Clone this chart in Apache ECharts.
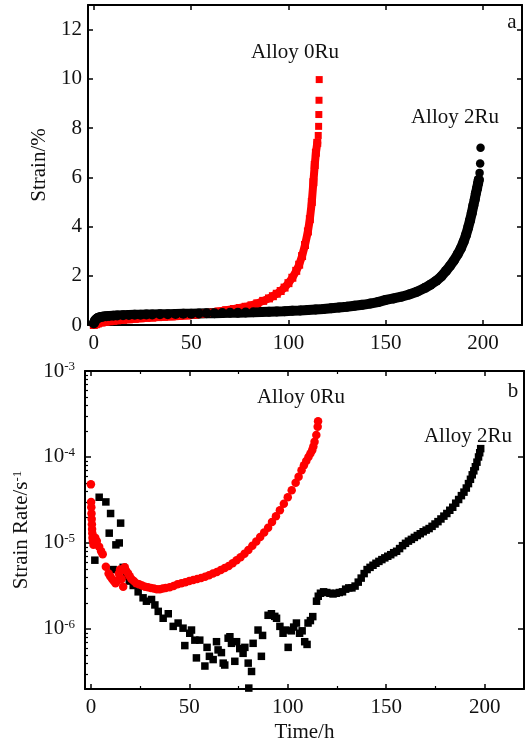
<!DOCTYPE html>
<html>
<head>
<meta charset="utf-8">
<script src="https://cdn.jsdelivr.net/npm/echarts@6/dist/echarts.min.js"></script>
<style>
  html, body { margin: 0; padding: 0; background: #fff; }
  #chart { width: 526px; height: 744px; }
</style>
</head>
<body>
<div id="chart"></div>
<script>
// ---- panel a: creep strain (%) vs time (h) ----
const strain0RuTime = [0, 1, 2, 4, 6, 8, 10, 12, 15, 18, 21, 24, 27, 30, 33, 36, 40, 44, 48, 52,
  56, 60, 64, 68, 72, 75, 78, 81, 84, 87, 90, 92, 94, 96, 98, 100, 102, 104, 105.5, 107,
  108.5, 110, 111, 112, 112.8, 113.5, 114.1, 114.8];
const strain0Ru = [0, 0.03, 0.06, 0.1, 0.13, 0.15, 0.17, 0.19, 0.21, 0.23, 0.25, 0.27, 0.29, 0.3, 0.32, 0.33, 0.35, 0.37, 0.39, 0.42,
  0.46, 0.5, 0.55, 0.6, 0.65, 0.69, 0.74, 0.8, 0.88, 0.98, 1.08, 1.17, 1.27, 1.38, 1.52, 1.7, 1.92, 2.2, 2.45, 2.8,
  3.25, 3.8, 4.3, 5.0, 5.8, 6.5, 7.0, 7.4];
// last separated points before rupture
const strain0RuTailTime = [115.3, 115.5, 115.6, 115.7, 115.8];
const strain0RuTail = [7.7, 8.07, 8.55, 9.13, 9.97];

const strain2RuTime = [0, 0.3, 0.6, 1, 1.5, 2, 3, 4, 5, 6.5, 8, 10, 12, 15, 18, 21, 24, 27, 30, 34,
  38, 42, 46, 50, 54, 58, 62, 66, 70, 74, 78, 82, 86, 90, 94, 98, 102, 106, 110, 114,
  118, 122, 126, 130, 134, 138, 142, 146, 150, 154, 158, 162, 166, 170, 173, 176, 178.5, 181, 183, 185,
  187, 188.5, 190, 191.2, 192.3, 193.3, 194.2, 195, 195.7, 196.3, 196.9, 197.4, 197.8];
const strain2Ru = [0.06, 0.12, 0.17, 0.21, 0.25, 0.28, 0.31, 0.33, 0.35, 0.36, 0.37, 0.38, 0.39, 0.4, 0.41, 0.42, 0.42, 0.43, 0.43, 0.44,
  0.44, 0.45, 0.46, 0.46, 0.47, 0.48, 0.48, 0.49, 0.5, 0.5, 0.51, 0.52, 0.53, 0.54, 0.55, 0.56, 0.58, 0.59, 0.61, 0.63,
  0.65, 0.68, 0.71, 0.74, 0.78, 0.82, 0.87, 0.93, 1.02, 1.08, 1.15, 1.24, 1.35, 1.5, 1.64, 1.8, 1.97, 2.2, 2.4, 2.62,
  2.88, 3.1, 3.38, 3.65, 3.95, 4.25, 4.55, 4.85, 5.1, 5.35, 5.55, 5.75, 5.9];
const strain2RuTailTime = [198.2, 198.5, 198.7];
const strain2RuTail = [6.18, 6.56, 7.2];

// ---- panel b: strain rate (1/s) vs time (h) ----
const rate0RuTime = [0, 0.1, 0.2, 0.3, 0.4, 0.5, 0.6, 0.7, 0.8, 1.0, 1.3, 2.2, 3.0, 4.2, 5.2, 6.0, 7.6, 9.0, 9.8, 10.8,
  11.6, 12.5, 13.4, 14.2, 14.8, 15.6, 16.4, 17.2, 18.0, 18.9, 19.7, 20.6, 21.8, 23, 24.5, 26, 27.5, 29, 30.5, 32,
  33.5, 35, 36.5, 38, 40, 42, 44, 46, 48, 50, 52, 54, 56, 58, 60, 62, 64, 66, 68, 70,
  72, 74, 76, 78, 80, 82, 84, 86, 88, 90, 92, 94, 96, 98, 100, 102, 104, 105.5, 107, 108.2,
  109.4, 110.5, 111.5, 112.4, 113.0, 113.6, 114.5, 115.2, 115.4];
const rate0Ru = [4.8e-5, 3.0e-5, 2.6e-5, 2.2e-5, 1.9e-5, 1.65e-5, 1.45e-5, 1.3e-5, 1.15e-5, 1.05e-5, 9.5e-6, 1.15e-5, 1.05e-5, 9.0e-6, 8.0e-6, 7.4e-6, 5.3e-6, 4.4e-6, 4.1e-6, 3.8e-6,
  3.6e-6, 3.4e-6, 3.6e-6, 4.4e-6, 4.9e-6, 3.8e-6, 3.1e-6, 5.2e-6, 4.7e-6, 4.4e-6, 4.1e-6, 3.8e-6, 3.6e-6, 3.4e-6, 3.3e-6, 3.2e-6, 3.1e-6, 3.05e-6, 3.0e-6, 2.95e-6,
  2.9e-6, 2.9e-6, 2.95e-6, 3.0e-6, 3.05e-6, 3.15e-6, 3.3e-6, 3.4e-6, 3.5e-6, 3.6e-6, 3.7e-6, 3.8e-6, 3.9e-6, 4.05e-6, 4.2e-6, 4.4e-6, 4.6e-6, 4.85e-6, 5.1e-6, 5.4e-6,
  5.8e-6, 6.3e-6, 6.8e-6, 7.5e-6, 8.3e-6, 9.3e-6, 1.04e-5, 1.17e-5, 1.32e-5, 1.5e-5, 1.75e-5, 2.05e-5, 2.4e-5, 2.85e-5, 3.4e-5, 4.1e-5, 5.0e-5, 5.9e-5, 7.0e-5, 8.0e-5,
  9.0e-5, 1.0e-4, 1.1e-4, 1.2e-4, 1.32e-4, 1.5e-4, 1.8e-4, 2.25e-4, 2.6e-4];

const rate2RuTime = [2.0, 4.2, 7.6, 9.3, 10.0, 11.3, 12.7, 14.4, 15.1, 16.4,
  18.1, 19.5, 21.5, 24.0, 26.5, 28.2, 30.8, 32.5, 34.2, 36.7,
  39.3, 41.8, 44.3, 46.8, 47.7, 50.2, 51.1, 52.8, 53.6, 55.3,
  57.9, 59.0, 60.2, 62.1, 63.8, 64.6, 66.3, 67.2, 68.0, 69.7,
  70.6, 71.4, 73.1, 74.0, 75.6, 77.3, 78.2, 79.9, 80.2, 81.6,
  82.4, 84.9, 86.6, 87.2, 90.0, 91.7, 93.4, 94.3, 96.0, 97.6,
  99.0, 100.2, 101.8, 103.0, 104.4, 106.0, 107.3, 108.6, 109.8, 110.3,
  111.5, 112.7, 114.6, 115.5, 116.6, 118.2, 119.8, 121.4, 123.0, 124.6,
  126.2, 127.8, 129.4, 131.0, 132.6, 134.2, 135.8, 137.3, 138.8, 140.3,
  141.8, 143.3, 144.8, 146.3, 147.8, 149.3, 150.8, 152.3, 153.8, 155.3,
  156.8, 158.3, 159.8, 161.3, 162.8, 164.3, 165.8, 167.3, 168.8, 170.3,
  171.8, 173.3, 174.8, 176.3, 177.8, 179.3, 180.8, 182.3, 183.8, 185.3,
  186.8, 188.2, 189.5, 190.7, 191.8, 192.8, 193.7, 194.5, 195.3, 196.1,
  196.9, 197.5, 198.0];
const rate2Ru = [6.3e-6, 3.4e-5, 3.0e-5, 1.3e-5, 2.2e-5, 4.9e-6, 9.5e-6, 1.0e-5, 1.7e-5, 5.2e-6,
  4.1e-6, 3.6e-6, 3.2e-6, 2.7e-6, 2.3e-6, 2.1e-6, 2.2e-6, 1.9e-6, 1.6e-6, 1.33e-6,
  1.5e-6, 1.07e-6, 1.17e-6, 1.02e-6, 6.4e-7, 8.9e-7, 9.7e-7, 7.4e-7, 4.6e-7, 7.4e-7,
  3.7e-7, 6.1e-7, 4.8e-7, 4.4e-7, 7.1e-7, 5.7e-7, 5.3e-7, 4.0e-7, 3.8e-7, 7.8e-7,
  8.1e-7, 6.8e-7, 4.2e-7, 7.1e-7, 5.9e-7, 5.2e-7, 6.1e-7, 4.0e-7, 2.05e-7, 3.2e-7,
  6.8e-7, 9.7e-7, 4.8e-7, 8.4e-7, 1.44e-6, 1.5e-6, 1.4e-6, 1.33e-6, 1.07e-6, 8.9e-7,
  9.7e-7, 6.1e-7, 9.5e-7, 1.05e-6, 1.17e-6, 8.9e-7, 9.5e-7, 7.1e-7, 6.6e-7, 1.17e-6,
  1.25e-6, 1.39e-6, 2.1e-6, 2.4e-6, 2.6e-6, 2.7e-6, 2.65e-6, 2.6e-6, 2.55e-6, 2.6e-6,
  2.65e-6, 2.7e-6, 2.9e-6, 3.0e-6, 3.0e-6, 3.15e-6, 3.5e-6, 3.9e-6, 4.4e-6, 4.9e-6,
  5.2e-6, 5.5e-6, 5.8e-6, 6.1e-6, 6.4e-6, 6.7e-6, 7.0e-6, 7.3e-6, 7.7e-6, 8.0e-6,
  8.6e-6, 9.3e-6, 9.9e-6, 1.05e-5, 1.1e-5, 1.16e-5, 1.22e-5, 1.28e-5, 1.35e-5, 1.41e-5,
  1.47e-5, 1.56e-5, 1.66e-5, 1.77e-5, 1.9e-5, 2.05e-5, 2.2e-5, 2.4e-5, 2.6e-5, 2.9e-5,
  3.2e-5, 3.55e-5, 3.9e-5, 4.35e-5, 4.9e-5, 5.5e-5, 6.2e-5, 6.9e-5, 7.7e-5, 8.7e-5,
  1.0e-4, 1.12e-4, 1.25e-4];

// tick values
const timeTicks = [0, 50, 100, 150, 200];
const timeMinorTicks = [25, 75, 125, 175];
const strainTicks = [0, 2, 4, 6, 8, 10, 12];
const rateMinorTicks = [3e-7, 4e-7, 5e-7, 6e-7, 7e-7, 8e-7, 9e-7,
  2e-6, 3e-6, 4e-6, 5e-6, 6e-6, 7e-6, 8e-6, 9e-6,
  2e-5, 3e-5, 4e-5, 5e-5, 6e-5, 7e-5, 8e-5, 9e-5,
  2e-4, 3e-4, 4e-4, 5e-4, 6e-4, 7e-4, 8e-4, 9e-4];

const FONT = 'Liberation Serif';
const FS = 21;
const INK = '#111';
const RED = '#ff0000';

function pairs(xs, ys) {
  return xs.map((x, i) => [x, ys[i]]);
}

function linAxis(gridIndex, position, min, max, ticks, showLabel, tickLen) {
  return {
    type: 'value', gridIndex: gridIndex, position: position, min: min, max: max,
    splitLine: { show: false },
    axisLine: { show: true, onZero: false, lineStyle: { color: '#000', width: 2 } },
    axisTick: { show: true, inside: true, length: tickLen || 5, customValues: ticks,
      lineStyle: { color: '#000', width: 1.5 } },
    axisLabel: { show: showLabel, customValues: ticks, color: INK, fontFamily: FONT, fontSize: FS, margin: 8 }
  };
}

function minorAxis(gridIndex, position, min, max, ticks) {
  return {
    type: 'value', gridIndex: gridIndex, position: position, min: min, max: max,
    splitLine: { show: false },
    axisLine: { show: false, onZero: false },
    axisTick: { show: true, inside: true, length: 3, customValues: ticks,
      lineStyle: { color: '#000', width: 1.2 } },
    axisLabel: { show: false }
  };
}

const supRich = {
  b: { fontFamily: FONT, fontSize: FS, color: INK },
  sup: { fontFamily: FONT, fontSize: 13, color: INK, verticalAlign: 'top' }
};

function logAxis(position, showLabel) {
  return {
    type: 'log', logBase: 10, gridIndex: 1, position: position, min: 2e-7, max: 1e-3,
    splitLine: { show: false },
    minorTick: { show: false },
    axisLine: { show: true, onZero: false, lineStyle: { color: '#000', width: 2 } },
    axisTick: { show: true, inside: true, length: 6, lineStyle: { color: '#000', width: 1.5 } },
    axisLabel: {
      show: showLabel, margin: 10, rich: supRich,
      formatter: function (v) {
        const e = Math.log10(v);
        const r = Math.round(e);
        if (Math.abs(e - r) > 1e-6) return '';
        return '{b|10}{sup|' + (r < 0 ? '-' : '') + Math.abs(r) + '}';
      }
    }
  };
}

const chart = echarts.init(document.getElementById('chart'), null, { renderer: 'canvas' });

const xTopBottom = linAxis(0, 'bottom', -3, 220, timeTicks, true);
const xTopTop = linAxis(0, 'top', -3, 220, timeTicks, false);
const xBotBottom = linAxis(1, 'bottom', -3, 220, timeTicks, true);
xBotBottom.name = 'Time/h';
xBotBottom.nameLocation = 'middle';
xBotBottom.nameGap = 33;
xBotBottom.nameTextStyle = { fontFamily: FONT, fontSize: FS, color: INK };
const xBotTop = linAxis(1, 'top', -3, 220, timeTicks, false);
const xBotMinorB = minorAxis(1, 'bottom', -3, 220, timeMinorTicks);
const xBotMinorT = minorAxis(1, 'top', -3, 220, timeMinorTicks);

const yTopLeft = linAxis(0, 'left', 0, 13, strainTicks, true);
yTopLeft.name = 'Strain/%';
yTopLeft.nameLocation = 'middle';
yTopLeft.nameGap = 30;
yTopLeft.nameRotate = 90;
yTopLeft.nameTextStyle = { fontFamily: FONT, fontSize: FS, color: INK };
yTopLeft.axisLabel.margin = 6;
const yTopRight = linAxis(0, 'right', 0, 13, strainTicks, false);

const yBotLeft = logAxis('left', true);
yBotLeft.name = '{b|Strain Rate/s}{sup|-1}';
yBotLeft.nameLocation = 'middle';
yBotLeft.nameGap = 50;
yBotLeft.nameRotate = 90;
yBotLeft.nameTextStyle = { rich: supRich };
const yBotRight = logAxis('right', false);
const yBotMinor = minorAxis(1, 'left', Math.log10(2e-7), -3, rateMinorTicks.map(Math.log10));

const textStyle = function (txt, x, y) {
  return {
    type: 'text', x: x, y: y, silent: true,
    style: { text: txt, font: FS + 'px "' + FONT + '"', fill: INK,
      textAlign: 'center', textVerticalAlign: 'middle', align: 'center', verticalAlign: 'middle' }
  };
};

chart.setOption({
  animation: false,
  backgroundColor: '#fff',
  grid: [
    { left: 88, top: 5, width: 434, height: 320 },
    { left: 85, top: 371, width: 439, height: 318 }
  ],
  xAxis: [xTopBottom, xTopTop, xBotBottom, xBotTop, xBotMinorB, xBotMinorT],
  yAxis: [yTopLeft, yTopRight, yBotLeft, yBotRight, yBotMinor],
  series: [
    {
      name: 'Alloy 0Ru', type: 'line', xAxisIndex: 0, yAxisIndex: 0,
      data: pairs(strain0RuTime, strain0Ru),
      symbol: 'rect', symbolSize: 8, showAllSymbol: true,
      itemStyle: { color: RED, opacity: 1 },
      lineStyle: { color: RED, width: 8, cap: 'round', join: 'round' }
    },
    {
      name: 'Alloy 0Ru tail', type: 'scatter', xAxisIndex: 0, yAxisIndex: 0,
      data: pairs(strain0RuTailTime, strain0RuTail),
      symbol: 'rect', symbolSize: 7, itemStyle: { color: RED, opacity: 1 }
    },
    {
      name: 'Alloy 2Ru', type: 'line', xAxisIndex: 0, yAxisIndex: 0,
      data: pairs(strain2RuTime, strain2Ru),
      symbol: 'circle', symbolSize: 10, showAllSymbol: true,
      itemStyle: { color: '#000', opacity: 1 },
      lineStyle: { color: '#000', width: 10, cap: 'round', join: 'round' }
    },
    {
      name: 'Alloy 2Ru tail', type: 'scatter', xAxisIndex: 0, yAxisIndex: 0,
      data: pairs(strain2RuTailTime, strain2RuTail),
      symbol: 'circle', symbolSize: 8.5, itemStyle: { color: '#000', opacity: 1 }
    },
    {
      name: 'Alloy 2Ru rate', type: 'scatter', xAxisIndex: 2, yAxisIndex: 2,
      data: pairs(rate2RuTime, rate2Ru),
      symbol: 'rect', symbolSize: 7.5, itemStyle: { color: '#000', opacity: 1 }
    },
    {
      name: 'Alloy 0Ru rate', type: 'scatter', xAxisIndex: 2, yAxisIndex: 2,
      data: pairs(rate0RuTime, rate0Ru),
      symbol: 'circle', symbolSize: 8.5, itemStyle: { color: RED, opacity: 1 }
    }
  ],
  graphic: [
    textStyle('a', 512, 22),
    textStyle('Alloy 0Ru', 295, 52),
    textStyle('Alloy 2Ru', 455, 117),
    textStyle('b', 513, 391),
    textStyle('Alloy 0Ru', 301, 397),
    textStyle('Alloy 2Ru', 468, 436)
  ]
});
</script>
</body>
</html>
